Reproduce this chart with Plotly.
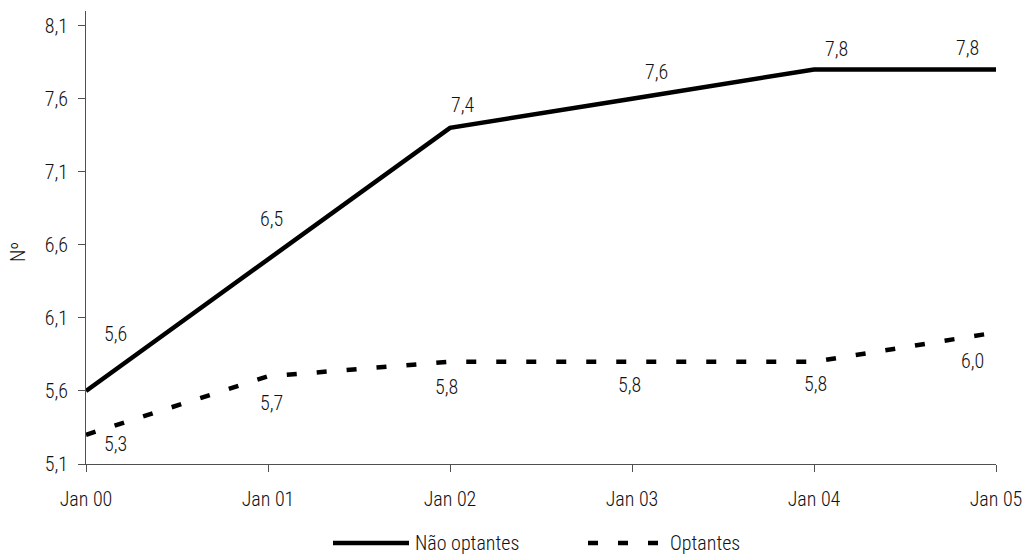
import plotly.graph_objects as go

# Average number per group, January of each year
periods = ["Jan 00", "Jan 01", "Jan 02", "Jan 03", "Jan 04", "Jan 05"]
nao_optantes = [5.6, 6.5, 7.4, 7.6, 7.8, 7.8]
optantes = [5.3, 5.7, 5.8, 5.8, 5.8, 6.0]
y_ticks = [5.1, 5.6, 6.1, 6.6, 7.1, 7.6, 8.1]

FONT = "Roboto Condensed, Liberation Sans Narrow, Arial Narrow, sans-serif"
FSIZE = 20
INK = "#111111"
AXIS = "#505050"

# Pixel offsets of the value labels (x right, y up) relative to each point
nao_offsets = [(29, 57), (3, 40), (13, 23), (24, 27), (22, 20), (-29, 21)]
opt_offsets = [(29, -9), (3, -27), (-4, -25), (-3, -23), (1, -22), (-24, -29)]

x_pos = list(range(len(periods)))


def tfont():
    return dict(family=FONT, size=FSIZE, color=INK, weight=300)


fig = go.Figure()
fig.add_trace(go.Scatter(
    x=x_pos, y=nao_optantes, mode="lines", name="Não optantes",
    line=dict(color="black", width=4.5), showlegend=False, cliponaxis=False,
))
fig.add_trace(go.Scatter(
    x=x_pos, y=optantes, mode="lines", name="Optantes",
    line=dict(color="black", width=4.5, dash="10px,20px"), showlegend=False,
    cliponaxis=False,
))


def fmt(v):
    return f"{v:.1f}".replace(".", ",")


annotations = []
for series, offsets in ((nao_optantes, nao_offsets), (optantes, opt_offsets)):
    for i, (v, (dx, dy)) in enumerate(zip(series, offsets)):
        annotations.append(dict(
            x=i, y=v, xref="x", yref="y", text=fmt(v), showarrow=False,
            xshift=dx, yshift=dy, font=tfont(),
        ))

# Axis title
annotations.append(dict(
    x=0, y=0.468, xref="paper", yref="paper", text="Nº", showarrow=False,
    textangle=-90, xanchor="center", yanchor="middle", xshift=-68,
    font=tfont(),
))

# Legend drawn below the axis
L, PW = 86, 910
B, PH = 464, 453


def px(xp):
    return (xp - L) / PW


def py(yp):
    return (B - yp) / PH


legend_y = py(543)
shapes = [
    dict(type="line", xref="paper", yref="paper", x0=px(333), x1=px(409),
         y0=legend_y, y1=legend_y, line=dict(color="black", width=4.5)),
    dict(type="line", xref="paper", yref="paper", x0=px(588), x1=px(659),
         y0=legend_y, y1=legend_y,
         line=dict(color="black", width=4.5, dash="10px,20px")),
]
annotations.append(dict(
    x=px(413), y=legend_y, xref="paper", yref="paper", text="Não optantes",
    showarrow=False, xanchor="left", yanchor="middle", font=tfont(),
))
annotations.append(dict(
    x=px(668), y=legend_y, xref="paper", yref="paper", text="Optantes",
    showarrow=False, xanchor="left", yanchor="middle", font=tfont(),
))

fig.update_layout(
    width=1025, height=556,
    margin=dict(l=86, r=29, t=11, b=92, autoexpand=False),
    paper_bgcolor="white", plot_bgcolor="white",
    font=tfont(),
    showlegend=False,
    annotations=annotations,
    shapes=shapes,
)
fig.update_xaxes(
    range=[0, 5], tickvals=x_pos, ticktext=periods, automargin=False,
    showgrid=False, zeroline=False, showline=True, linecolor=AXIS, linewidth=1,
    ticks="outside", ticklen=7, tickcolor=AXIS, tickwidth=1,
    ticklabelstandoff=10, tickfont=tfont(),
)
fig.update_yaxes(
    range=[5.1, 8.2], tickvals=y_ticks, ticktext=[fmt(v) for v in y_ticks],
    automargin=False,
    showgrid=False, zeroline=False, showline=True, linecolor=AXIS, linewidth=1,
    ticks="outside", ticklen=7, tickcolor=AXIS, tickwidth=1,
    ticklabelstandoff=6, tickfont=tfont(),
)

fig.write_html("out.html")
